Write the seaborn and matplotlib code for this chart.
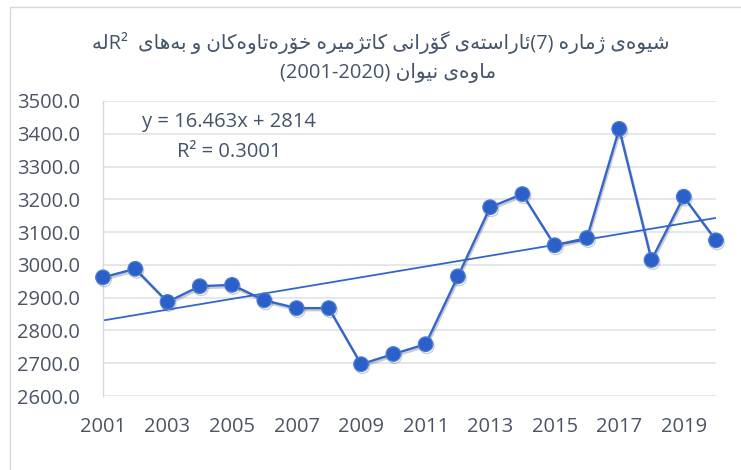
import re
import numpy as np
import pandas as pd
import matplotlib
matplotlib.use("Agg")
import matplotlib.pyplot as plt
import seaborn as sns
from matplotlib import patheffects as pe
from matplotlib.patches import Rectangle
from matplotlib.ticker import FormatStrFormatter

# --- data ---
years = [2001, 2002, 2003, 2004, 2005, 2006, 2007, 2008, 2009, 2010,
         2011, 2012, 2013, 2014, 2015, 2016, 2017, 2018, 2019, 2020]
sunshine_hours = [2962, 2988, 2887, 2935, 2939, 2892, 2868, 2868, 2697, 2728,
                  2758, 2965, 3176, 3216, 3060, 3082, 3415, 3015, 3208, 3075]
trend_slope = 16.463
trend_intercept = 2814
r_squared = 0.3001
y_ticks = [2600, 2700, 2800, 2900, 3000, 3100, 3200, 3300, 3400, 3500]
x_ticks = [2001, 2003, 2005, 2007, 2009, 2011, 2013, 2015, 2017, 2019]
title_line1 = "شێوەی ژمارە (7)ئاراستەی گۆرانی کاتژمێرە خۆرەتاوەکان و بەهای  R²لە"
title_line2 = "ماوەی نێوان (2001-2020)"

BLUE = "#3366CC"
TEXT = "#44546A"
TICK = "#4A5466"
FONTS = ["Open Sans", "DejaVu Sans"]

# --- tiny arabic shaper + rtl reorder (matplotlib does no shaping) ---
# forms: isolated, final, initial, medial (right-joining letters have only 2)
ARABIC_FORMS = {
    "\u0626": ("\uFE89", "\uFE8A", "\uFE8B", "\uFE8C"),
    "\u0627": ("\uFE8D", "\uFE8E"),
    "\u0628": ("\uFE8F", "\uFE90", "\uFE91", "\uFE92"),
    "\u062A": ("\uFE95", "\uFE96", "\uFE97", "\uFE98"),
    "\u062E": ("\uFEA5", "\uFEA6", "\uFEA7", "\uFEA8"),
    "\u0631": ("\uFEAD", "\uFEAE"),
    "\u0633": ("\uFEB1", "\uFEB2", "\uFEB3", "\uFEB4"),
    "\u0634": ("\uFEB5", "\uFEB6", "\uFEB7", "\uFEB8"),
    "\u0644": ("\uFEDD", "\uFEDE", "\uFEDF", "\uFEE0"),
    "\u0645": ("\uFEE1", "\uFEE2", "\uFEE3", "\uFEE4"),
    "\u0646": ("\uFEE5", "\uFEE6", "\uFEE7", "\uFEE8"),
    "\u0647": ("\uFEE9", "\uFEEA", "\uFEEB", "\uFEEC"),
    "\u0648": ("\uFEED", "\uFEEE"),
    "\u0698": ("\uFB8A", "\uFB8B"),
    "\u06A9": ("\uFB8E", "\uFB8F", "\uFB90", "\uFB91"),
    "\u06AF": ("\uFB92", "\uFB93", "\uFB94", "\uFB95"),
    "\u06C6": ("\uFBD9", "\uFBDA"),
    "\u06CC": ("\uFBFC", "\uFBFD", "\uFBFE", "\uFBFF"),
    # no presentation forms for this one, borrow farsi yeh shapes
    "\u06CE": ("\u06CE", "\u06CE", "\uFBFE", "\uFBFF"),
    "\u06D5": ("\uFEE9", "\uFEEA"),
}


def shape_run(text):
    out = []
    for i, ch in enumerate(text):
        forms = ARABIC_FORMS.get(ch)
        if forms is None:
            out.append(ch)
            continue
        prev = text[i - 1] if i > 0 else ""
        nxt = text[i + 1] if i + 1 < len(text) else ""
        join_prev = prev in ARABIC_FORMS and len(ARABIC_FORMS[prev]) == 4
        join_next = len(forms) == 4 and nxt in ARABIC_FORMS
        if join_prev and join_next:
            out.append(forms[3])
        elif join_next:
            out.append(forms[2])
        elif join_prev:
            out.append(forms[1])
        else:
            out.append(forms[0])
    return out


def rtl_visual(line):
    parts = re.split(r"([\(\)0-9A-Za-z²\-]+)", line)
    vis = []
    for p in parts:
        if not p:
            continue
        if re.fullmatch(r"[\(\)0-9A-Za-z²\-]+", p):
            vis.append(p)
        else:
            vis.append("".join(reversed(shape_run(p))))
    return "".join(reversed(vis))


df = pd.DataFrame({"year": years, "hours": sunshine_hours})
df["trend"] = trend_intercept + trend_slope * (df["year"] - years[0] + 1)

sns.set_style("white")
plt.rcParams["font.family"] = FONTS

fig = plt.figure(figsize=(7.41, 4.70), dpi=100)
ax = fig.add_axes([103 / 741, 1 - 396 / 470, (716 - 103) / 741, (396 - 101) / 470])

sns.lineplot(data=df, x="year", y="trend", ax=ax, color=BLUE, lw=1.3, zorder=2)
sns.lineplot(data=df, x="year", y="hours", ax=ax, color=BLUE, lw=1.7, marker="o",
             markersize=10.5, markerfacecolor="#2C60C9", markeredgecolor="#4A7DD6",
             markeredgewidth=0.9, zorder=3, clip_on=False)
ax.lines[-1].set_path_effects([pe.SimpleLineShadow(offset=(0.8, -1.5), alpha=0.25, shadow_color="#333333"),
                               pe.Normal()])

ax.set_xlim(2001, 2020)
ax.set_ylim(2600, 3500)
ax.set_yticks(y_ticks)
ax.set_xticks(x_ticks)
ax.yaxis.set_major_formatter(FormatStrFormatter("%.1f"))
ax.set_xlabel("")
ax.set_ylabel("")
ax.tick_params(axis="y", length=0, pad=16.5, labelsize=14.5, labelcolor=TICK)
ax.tick_params(axis="x", length=0, pad=15, labelsize=14.5, labelcolor=TICK)
ax.grid(axis="y", color="#DDE0E5", lw=1.1)
ax.grid(axis="x", visible=False)
for side in ["top", "right", "bottom"]:
    ax.spines[side].set_visible(False)
ax.spines["left"].set_color("#D5D9DF")
ax.spines["left"].set_linewidth(1.0)

fig.text(229 / 741, 1 - 122 / 470, f"y = {trend_slope}x + {trend_intercept}",
         ha="center", va="center", fontsize=14.5, color=TEXT)
fig.text(229 / 741, 1 - 152 / 470, f"R² = {r_squared:.4f}",
         ha="center", va="center", fontsize=14.5, color=TEXT)

fig.text(381 / 741, 1 - 43 / 470, rtl_visual(title_line1), ha="center", va="center",
         fontsize=14.3, color=TEXT, family=FONTS)
fig.text(388 / 741, 1 - 73 / 470, rtl_visual(title_line2), ha="center", va="center",
         fontsize=14.5, color=TEXT, family=FONTS)

fig.patches.append(Rectangle((10 / 741, -0.5), 2, 1 - 7 / 470 + 0.5, transform=fig.transFigure,
                             fill=False, ec="#D9D9D9", lw=1.0))

fig.savefig("out.png", dpi=100)
